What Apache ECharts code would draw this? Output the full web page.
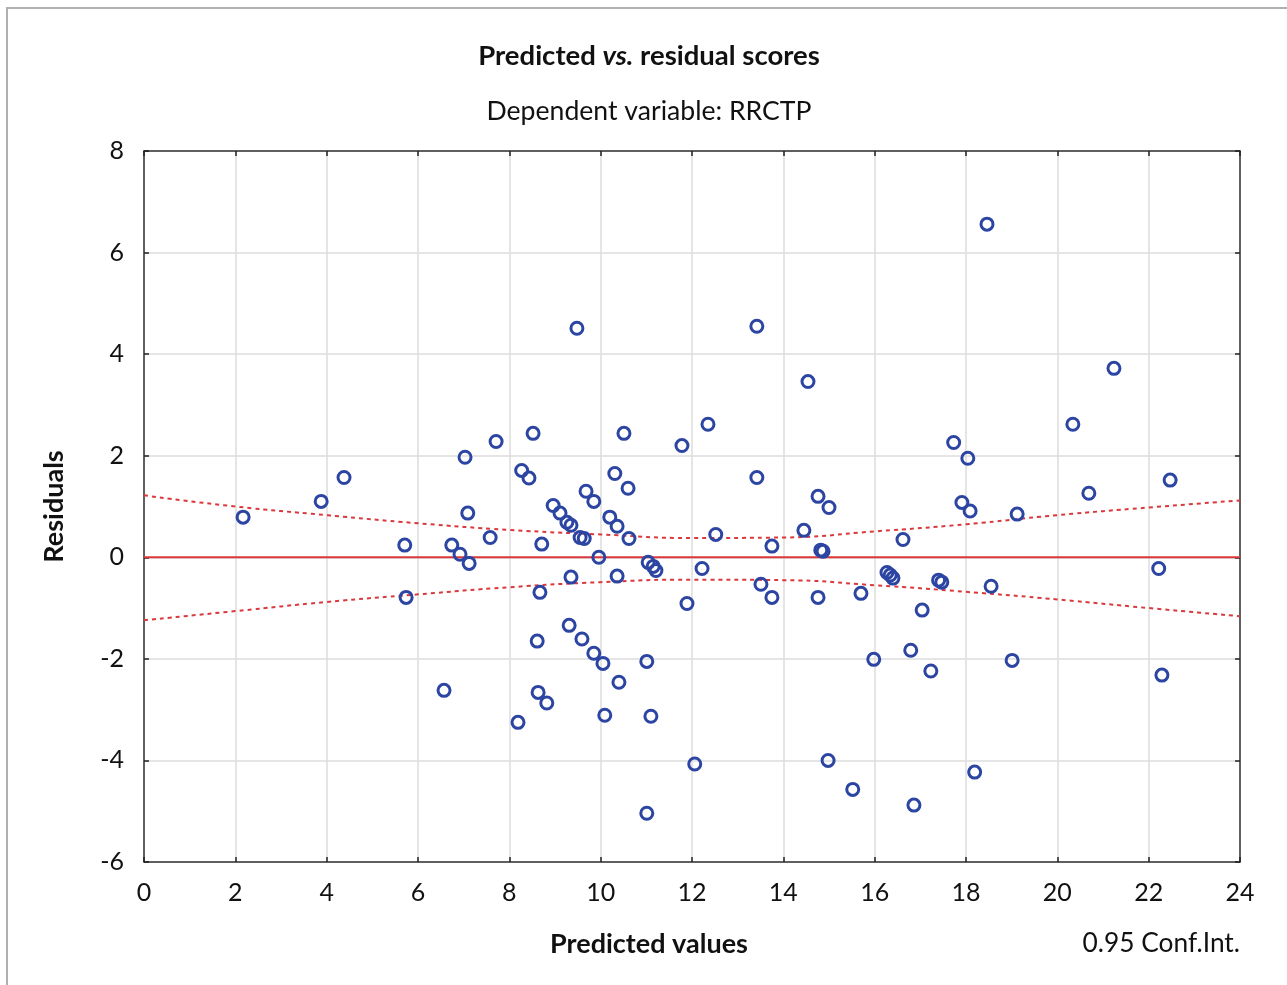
<!DOCTYPE html>
<html>
<head>
<meta charset="utf-8">
<script src="https://cdn.jsdelivr.net/npm/echarts@6/dist/echarts.min.js"></script>
<style>
html,body{margin:0;padding:0;background:#fff;}
#chart{width:1287px;height:985px;}
</style>
</head>
<body>
<div id="chart"></div>
<script>
// Predicted values (x) and residuals (y)
var predicted = [2.17,3.88,4.38,5.71,5.74,6.57,6.74,6.92,7.12,7.03,7.09,7.58,7.71,8.19,8.27,8.43,8.52,8.61,8.63,8.67,8.71,8.82,8.96,9.11,9.26,9.35,9.31,9.35,9.48,9.55,9.64,9.59,9.68,9.85,9.85,9.96,10.05,10.09,10.20,10.31,10.36,10.36,10.40,10.51,10.60,10.62,11.01,11.01,11.04,11.15,11.21,11.10,11.78,11.89,12.06,12.22,12.35,12.52,13.42,13.42,13.51,13.75,13.75,14.54,14.45,14.76,14.82,14.87,14.76,15.00,14.98,15.52,15.70,15.98,16.27,16.34,16.40,16.62,16.79,16.86,17.04,17.23,17.40,17.47,17.73,17.91,18.04,18.09,18.19,18.46,18.55,19.12,19.01,20.34,20.69,21.24,22.22,22.29,22.47];
var residuals = [0.79,1.10,1.57,0.24,-0.79,-2.62,0.24,0.06,-0.12,1.97,0.87,0.39,2.28,-3.25,1.71,1.56,2.44,-1.65,-2.66,-0.69,0.26,-2.87,1.02,0.87,0.69,0.63,-1.34,-0.39,4.51,0.39,0.37,-1.61,1.30,-1.89,1.10,0.00,-2.09,-3.11,0.79,1.65,0.61,-0.37,-2.46,2.44,1.36,0.37,-5.04,-2.05,-0.10,-0.18,-0.26,-3.13,2.20,-0.91,-4.07,-0.22,2.62,0.45,4.55,1.57,-0.53,0.22,-0.79,3.46,0.53,1.20,0.14,0.12,-0.79,0.98,-4.00,-4.57,-0.71,-2.01,-0.30,-0.35,-0.41,0.35,-1.83,-4.88,-1.04,-2.24,-0.45,-0.49,2.26,1.08,1.95,0.91,-4.23,6.56,-0.57,0.85,-2.03,2.62,1.26,3.72,-0.22,-2.32,1.52];
// 0.95 confidence band
var ciX = [0,2,4,6,8,10,12,14,16,18,20,22,24];
var ciUpper = [1.22,1.00,0.83,0.67,0.54,0.45,0.38,0.39,0.51,0.65,0.83,0.98,1.12];
var ciLower = [-1.24,-1.06,-0.88,-0.73,-0.59,-0.49,-0.44,-0.45,-0.55,-0.68,-0.83,-1.00,-1.16];
var fitX = [0,24];
var fitY = [0,0];
var xTicks = [0,2,4,6,8,10,12,14,16,18,20,22,24];
var yTicks = [-6,-4,-2,0,2,4,6,8];

var FONT = 'Lato';
function pairs(a,b){ return a.map(function(v,i){ return [v,b[i]]; }); }

var chart = echarts.init(document.getElementById('chart'));
var gridLine = {show:true, lineStyle:{color:'#dcdcdc', width:1.5}};
var axisLine = {show:true, onZero:false, lineStyle:{color:'#333', width:1.5}};
var tick = {show:true, inside:true, length:5, lineStyle:{color:'#222', width:1.5}};
chart.setOption({
  animation:false,
  backgroundColor:'#fff',
  grid:{left:144, right:47, top:151, bottom:123, containLabel:false},
  title:[
    {text:'{b|Predicted }{i|vs.}{b| residual scores}', left:649, top:42, padding:0, textAlign:'center',
     textStyle:{rich:{b:{fontFamily:FONT,fontWeight:'bold',fontSize:27.5,color:'#111'},
                      i:{fontFamily:FONT,fontWeight:'bold',fontStyle:'italic',fontSize:27.5,color:'#111'}}}},
    {text:'Dependent variable: RRCTP', left:649, top:98, padding:0, textAlign:'center',
     textStyle:{fontFamily:FONT,fontWeight:'normal',fontSize:26.6,color:'#111'}},
    {text:'Predicted values', left:649, top:931, padding:0, textAlign:'center',
     textStyle:{fontFamily:FONT,fontWeight:'bold',fontSize:27,color:'#111'}},
    {text:'0.95 Conf.Int.', right:47, top:931, padding:0,
     textStyle:{fontFamily:FONT,fontWeight:'normal',fontSize:26.3,color:'#111'}}
  ],
  graphic:[
    {type:'rect', shape:{x:7,y:8,width:1300,height:1000}, style:{fill:null, stroke:'#b0b0b0', lineWidth:2}, silent:true}
  ],
  xAxis:[
    {type:'value', min:0, max:24, interval:2, position:'bottom',
     axisLine:axisLine, axisTick:tick, splitLine:gridLine,
     axisLabel:{fontFamily:FONT, fontSize:25, color:'#111', margin:18}},
    {type:'value', min:0, max:24, interval:2, position:'top',
     axisLine:axisLine, axisTick:tick, splitLine:{show:false}, axisLabel:{show:false}}
  ],
  yAxis:[
    {type:'value', min:-6, max:8, interval:2, position:'left',
     name:'Residuals', nameLocation:'middle', nameGap:76, nameRotate:90,
     nameTextStyle:{fontFamily:FONT, fontWeight:'bold', fontSize:27, color:'#111'},
     axisLine:axisLine, axisTick:tick, splitLine:gridLine,
     axisLabel:{fontFamily:FONT, fontSize:25, color:'#111', margin:20}},
    {type:'value', min:-6, max:8, interval:2, position:'right',
     axisLine:axisLine, axisTick:tick, splitLine:{show:false}, axisLabel:{show:false}}
  ],
  series:[
    {type:'line', data:pairs(fitX,fitY), symbol:'none', lineStyle:{color:'#d9383d', width:2}, z:3},
    {type:'line', data:pairs(ciX,ciUpper), smooth:true, symbol:'none', lineStyle:{color:'#d9383d', width:2, type:[4,4]}, z:3},
    {type:'line', data:pairs(ciX,ciLower), smooth:true, symbol:'none', lineStyle:{color:'#d9383d', width:2, type:[4,4]}, z:3},
    {type:'scatter', data:pairs(predicted,residuals), symbol:'circle', symbolSize:12,
     itemStyle:{color:'rgba(0,0,0,0)', borderColor:'#2c45a3', borderWidth:3, opacity:1}, z:5}
  ]
});
</script>
</body>
</html>
